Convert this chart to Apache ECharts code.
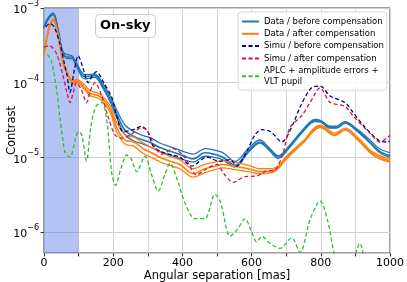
<!DOCTYPE html>
<html><head><meta charset="utf-8">
<script src="https://cdn.jsdelivr.net/npm/echarts@6/dist/echarts.min.js"></script>
<style>html,body{margin:0;padding:0;background:#fff}#c{width:407px;height:282px}</style>
</head><body><div id="c"></div>
<script>
// ---- data (angular separation in mas, contrast) ----
const sepBefore = [0, 15, 27, 40, 55, 70, 80, 95, 118, 147, 170, 191, 210, 234, 260, 287, 310, 335, 365, 402, 431, 465, 490, 517, 552, 590, 624, 650, 677, 710, 750, 783, 800, 827, 845, 870, 904, 942, 970, 1000];
const dataBeforeA = [5.6e-4, 7.5e-4, 8.3e-4, 5.2e-4, 2.5e-4, 2.2e-4, 2.2e-4, 1.7e-4, 1.2e-4, 1.25e-4, 9e-5, 6e-5, 3.8e-5, 2.3e-5, 1.9e-5, 1.7e-5, 1.55e-5, 1.35e-5, 1.2e-5, 1.05e-5, 9.5e-6, 1.15e-5, 1.1e-5, 1.0e-5, 7.8e-6, 1.2e-5, 1.6e-5, 1.3e-5, 1.0e-5, 1.4e-5, 2.3e-5, 3.1e-5, 3.0e-5, 2.5e-5, 2.5e-5, 2.9e-5, 2.3e-5, 1.6e-5, 1.2e-5, 1.05e-5];
const dataBeforeB = [5.8e-4, 7.8e-4, 8.6e-4, 5.4e-4, 2.6e-4, 2.35e-4, 2.3e-4, 1.8e-4, 1.28e-4, 1.3e-4, 9.8e-5, 6.6e-5, 4.3e-5, 2.7e-5, 2.2e-5, 1.95e-5, 1.8e-5, 1.55e-5, 1.38e-5, 1.2e-5, 1.1e-5, 1.3e-5, 1.25e-5, 1.15e-5, 8.8e-6, 1.3e-5, 1.7e-5, 1.35e-5, 1.05e-5, 1.45e-5, 2.4e-5, 3.2e-5, 3.1e-5, 2.6e-5, 2.6e-5, 3.0e-5, 2.4e-5, 1.7e-5, 1.3e-5, 1.15e-5];
const dataBeforeC = [5.4e-4, 7.3e-4, 8.1e-4, 5.0e-4, 2.4e-4, 2.1e-4, 2.1e-4, 1.6e-4, 1.12e-4, 1.18e-4, 8.4e-5, 5.5e-5, 3.4e-5, 2.0e-5, 1.65e-5, 1.5e-5, 1.35e-5, 1.2e-5, 1.07e-5, 9.3e-6, 8.6e-6, 1.03e-5, 1.0e-5, 9.2e-6, 7.4e-6, 1.15e-5, 1.55e-5, 1.25e-5, 9.6e-6, 1.35e-5, 2.25e-5, 3.0e-5, 2.95e-5, 2.45e-5, 2.45e-5, 2.85e-5, 2.25e-5, 1.55e-5, 1.15e-5, 1.0e-5];

const sepAfter = [0, 15, 27, 40, 55, 70, 85, 95, 118, 133, 162, 191, 210, 234, 260, 287, 310, 335, 365, 393, 431, 465, 490, 517, 552, 590, 624, 668, 702, 749, 798, 841, 870, 904, 942, 970, 1000];
const dataAfterA = [2.4e-4, 5.5e-4, 7.0e-4, 4.5e-4, 1.9e-4, 1.25e-4, 1.0e-4, 1.05e-4, 8.5e-5, 7.2e-5, 6.5e-5, 4.4e-5, 2.5e-5, 1.7e-5, 1.6e-5, 1.3e-5, 1.15e-5, 1.0e-5, 8.8e-6, 8.0e-6, 6.0e-6, 7.0e-6, 7.5e-6, 8.0e-6, 7.5e-6, 7.0e-6, 6.4e-6, 6.8e-6, 1.0e-5, 1.6e-5, 2.6e-5, 2.0e-5, 2.35e-5, 1.8e-5, 1.2e-5, 1.0e-5, 9.0e-6];
const dataAfterB = [2.5e-4, 5.7e-4, 7.2e-4, 4.7e-4, 2.0e-4, 1.3e-4, 1.05e-4, 1.1e-4, 9.2e-5, 7.8e-5, 7.0e-5, 4.9e-5, 2.9e-5, 2.0e-5, 1.85e-5, 1.55e-5, 1.35e-5, 1.18e-5, 1.02e-5, 9.2e-6, 7.0e-6, 8.0e-6, 8.5e-6, 9.0e-6, 8.5e-6, 7.8e-6, 7.0e-6, 7.2e-6, 1.05e-5, 1.65e-5, 2.7e-5, 2.1e-5, 2.45e-5, 1.9e-5, 1.25e-5, 1.05e-5, 9.5e-6];
const dataAfterC = [2.3e-4, 5.3e-4, 6.8e-4, 4.3e-4, 1.8e-4, 1.2e-4, 9.6e-5, 1.0e-4, 8.0e-5, 6.7e-5, 6.0e-5, 4.0e-5, 2.2e-5, 1.5e-5, 1.4e-5, 1.12e-5, 1.0e-5, 8.7e-6, 7.7e-6, 7.0e-6, 5.4e-6, 6.2e-6, 6.7e-6, 7.2e-6, 6.8e-6, 6.4e-6, 6.0e-6, 6.5e-6, 9.6e-6, 1.55e-5, 2.5e-5, 1.95e-5, 2.3e-5, 1.75e-5, 1.15e-5, 9.5e-6, 8.6e-6];

const sepSimuBefore = [5, 17, 30, 46, 60, 66, 75, 88, 99, 112, 128, 140, 152, 170, 196, 210, 229, 258, 282, 300, 316, 345, 393, 427, 470, 509, 538, 557, 586, 610, 629, 655, 687, 720, 740, 774, 798, 827, 870, 893, 922, 966, 990, 1000];
const simuBefore = [5.6e-4, 6.2e-4, 5.5e-4, 3.3e-4, 1.7e-4, 1.3e-4, 7.4e-5, 1.5e-4, 2.3e-4, 1.6e-4, 1.0e-4, 1.25e-4, 1.4e-4, 1.05e-4, 6.3e-5, 3.6e-5, 2.2e-5, 2.35e-5, 2.6e-5, 2.2e-5, 1.4e-5, 1.15e-5, 1.0e-5, 7.6e-6, 1.0e-5, 8.8e-6, 9.3e-6, 7.6e-6, 1.2e-5, 2.0e-5, 2.35e-5, 2.2e-5, 1.6e-5, 2.8e-5, 4.7e-5, 8.6e-5, 9.0e-5, 6.6e-5, 5.4e-5, 4.0e-5, 2.7e-5, 1.7e-5, 1.6e-5, 1.65e-5];

const sepSimuAfter = [0, 17, 37, 56, 66, 75, 85, 94, 108, 123, 135, 147, 167, 185, 205, 225, 250, 282, 300, 320, 340, 374, 407, 441, 470, 500, 520, 547, 581, 615, 640, 668, 690, 711, 745, 770, 798, 827, 870, 893, 942, 971, 990, 1000];
const simuAfter = [3.0e-4, 3.1e-4, 2.4e-4, 1.17e-4, 7.5e-5, 5.4e-5, 7.5e-5, 1.0e-4, 8.0e-5, 5.4e-5, 8.0e-5, 1.0e-4, 6.6e-5, 3.5e-5, 2.0e-5, 1.8e-5, 2.0e-5, 2.5e-5, 2.2e-5, 1.4e-5, 1.1e-5, 1.3e-5, 1.0e-5, 5.8e-6, 7.0e-6, 8.0e-6, 6.0e-6, 4.6e-6, 5.5e-6, 5.6e-6, 6.5e-6, 6.8e-6, 1.1e-5, 2.5e-5, 3.6e-5, 5.5e-5, 8.5e-5, 5.4e-5, 4.8e-5, 3.6e-5, 2.1e-5, 1.6e-5, 1.8e-5, 1.95e-5];

const sepAplc = [10, 22, 37, 46, 56, 61, 75, 90, 99, 109, 123, 135, 150, 168, 182, 196, 207, 222, 239, 252, 268, 292, 310, 330, 350, 364, 385, 408, 436, 465, 494, 510, 538, 560, 581, 600, 615, 630, 653, 682, 716, 740, 770, 798, 820, 846, 880, 913, 930, 960, 1000];
const aplc = [2.4e-4, 1.9e-4, 7.7e-5, 3.4e-5, 1.55e-5, 1.15e-5, 1.0e-5, 1.7e-5, 2.2e-5, 2.0e-5, 8.9e-6, 2.5e-5, 4.8e-5, 5.4e-5, 3.0e-5, 6.0e-6, 4.2e-6, 7.0e-6, 1.07e-5, 9.5e-6, 6.4e-6, 1.03e-5, 6.0e-6, 3.5e-6, 6.0e-6, 8.3e-6, 5.0e-6, 2.4e-6, 1.5e-6, 1.5e-6, 3.2e-6, 2.5e-6, 8.7e-7, 1.1e-6, 1.5e-6, 1.0e-6, 7.3e-7, 8.7e-7, 7.0e-7, 6.0e-7, 8.3e-7, 5.3e-7, 1.5e-6, 2.6e-6, 1.4e-6, 4.0e-7, 3.0e-7, 7.0e-7, 3.5e-7, 2.0e-7, 2.0e-7];

const legendNames = ['Data / before compensation', 'Data / after compensation', 'Simu / before compensation', 'Simu / after compensation', 'APLC + amplitude errors +\nVLT pupil'];
const xTicks = [0, 200, 400, 600, 800, 1000];
const yMin = 5.2e-7, yMax = 1e-3;
const minorMultipliers = [2, 3, 4, 5, 6, 7, 8, 9];
const shadedRange = [0, 100];

// ---- build ----
const zip = (xs, ys) => xs.map((x, i) => [x, ys[i]]);
const FONT = 'DejaVu Sans';
const minorLines = [];
for (let e = -7; e <= -4; e++) {
  minorMultipliers.forEach(m => {
    const v = m * Math.pow(10, e);
    if (v > yMin && v < yMax) minorLines.push({ yAxis: v });
  });
}

function dataLine(name, xs, ys, color, width) {
  return { name, type: 'line', data: zip(xs, ys), symbol: 'none', smooth: 0.35,
    lineStyle: { color, width }, itemStyle: { color }, z: 3 };
}
function dashLine(name, xs, ys, color) {
  return { name, type: 'line', data: zip(xs, ys), symbol: 'none', smooth: 0.3,
    lineStyle: { color, width: 1.3, type: [4, 2.5] }, itemStyle: { color }, z: 4 };
}

const blue = '#1f77b4', orange = '#ff7f0e', navy = '#00008b', crimson = '#dc143c', green = '#2dbf2d';

const option = {
  animation: false,
  textStyle: { fontFamily: FONT },
  grid: { left: 44, right: 17, top: 8, bottom: 29, outerBoundsMode: 'none', containLabel: false,
    show: true, borderColor: '#3a3a3a', borderWidth: 1, backgroundColor: 'transparent' },
  title: {
    text: 'On-sky', left: 95, top: 14,
    textStyle: { fontFamily: FONT, fontWeight: 'bold', fontSize: 13, color: '#000', lineHeight: 14 },
    backgroundColor: '#fff', borderColor: '#cccccc', borderWidth: 1, borderRadius: 4, padding: [5, 5, 5, 5]
  },
  legend: {
    data: legendNames, orient: 'vertical', left: 238, top: 12,
    itemWidth: 17, itemHeight: 8, itemGap: 1.3,
    itemStyle: { opacity: 0 },
    backgroundColor: 'rgba(255,255,255,0.85)', borderColor: '#d6d6d6', borderWidth: 1, borderRadius: 3,
    padding: [4, 3, 3, 3],
    textStyle: { fontFamily: FONT, fontSize: 8.5, color: '#000', lineHeight: 11, padding: 0 }
  },
  xAxis: {
    type: 'value', min: 0, max: 1000, interval: 100,
    name: 'Angular separation [mas]', nameLocation: 'middle', nameGap: 17, nameMoveOverlap: false,
    nameTextStyle: { fontFamily: FONT, fontSize: 11.5, color: '#000' },
    axisLine: { show: false },
    axisTick: { show: true, length: 3.5, lineStyle: { color: '#333' } },
    axisLabel: { fontFamily: FONT, fontSize: 11, color: '#000', margin: 5,
      formatter: v => xTicks.indexOf(v) >= 0 ? String(v) : '' },
    splitLine: { show: true, lineStyle: { color: '#d4d4d4', width: 1 } }
  },
  yAxis: {
    type: 'log', logBase: 10, min: yMin, max: yMax,
    name: 'Contrast', nameLocation: 'middle', nameGap: 26, nameMoveOverlap: false,
    nameTextStyle: { fontFamily: FONT, fontSize: 11.5, color: '#000' },
    axisLine: { show: false },
    axisTick: { show: true, length: 3.5, lineStyle: { color: '#333' } },
    axisLabel: { fontFamily: FONT, fontSize: 11, color: '#000', margin: 5, showMinLabel: false, showMaxLabel: true,
      hideOverlap: false,
      formatter: v => {
        const l = Math.log10(v), r = Math.round(l);
        if (Math.abs(l - r) > 1e-6) return '';
        return '{b|10}{s|\u2212' + Math.abs(r) + '}';
      },
      rich: {
        b: { fontFamily: FONT, fontSize: 11, color: '#000', lineHeight: 16, verticalAlign: 'bottom' },
        s: { fontFamily: FONT, fontSize: 8, color: '#000', lineHeight: 8, verticalAlign: 'top' }
      } },
    splitLine: { show: true, lineStyle: { color: '#cfcfcf', width: 1 } }
  },
  series: [
    { name: 'bg', type: 'line', data: [[shadedRange[0], yMin], [shadedRange[1], yMin]], symbol: 'none',
      lineStyle: { opacity: 0 }, silent: true, z: 1,
      markArea: { silent: true, itemStyle: { color: 'rgba(65,105,225,0.4)' },
        data: [[{ xAxis: shadedRange[0], yAxis: yMin }, { xAxis: shadedRange[1], yAxis: yMax }]] },
      markLine: { silent: true, symbol: 'none', label: { show: false },
        lineStyle: { color: '#dadada', width: 1, type: 'solid' }, data: minorLines }
    },
    dataLine(legendNames[0], sepBefore, dataBeforeB, blue, 1.3),
    dataLine(legendNames[0], sepBefore, dataBeforeA, blue, 1.6),
    dataLine(legendNames[0], sepBefore, dataBeforeC, blue, 1.3),
    dataLine(legendNames[1], sepAfter, dataAfterB, orange, 1.3),
    dataLine(legendNames[1], sepAfter, dataAfterA, orange, 1.6),
    dataLine(legendNames[1], sepAfter, dataAfterC, orange, 1.3),
    dashLine(legendNames[2], sepSimuBefore, simuBefore, navy),
    dashLine(legendNames[3], sepSimuAfter, simuAfter, crimson),
    dashLine(legendNames[4], sepAplc, aplc, green)
  ]
};
const chart = echarts.init(document.getElementById('c'), null, { renderer: 'canvas' });
chart.setOption(option);
</script></body></html>
